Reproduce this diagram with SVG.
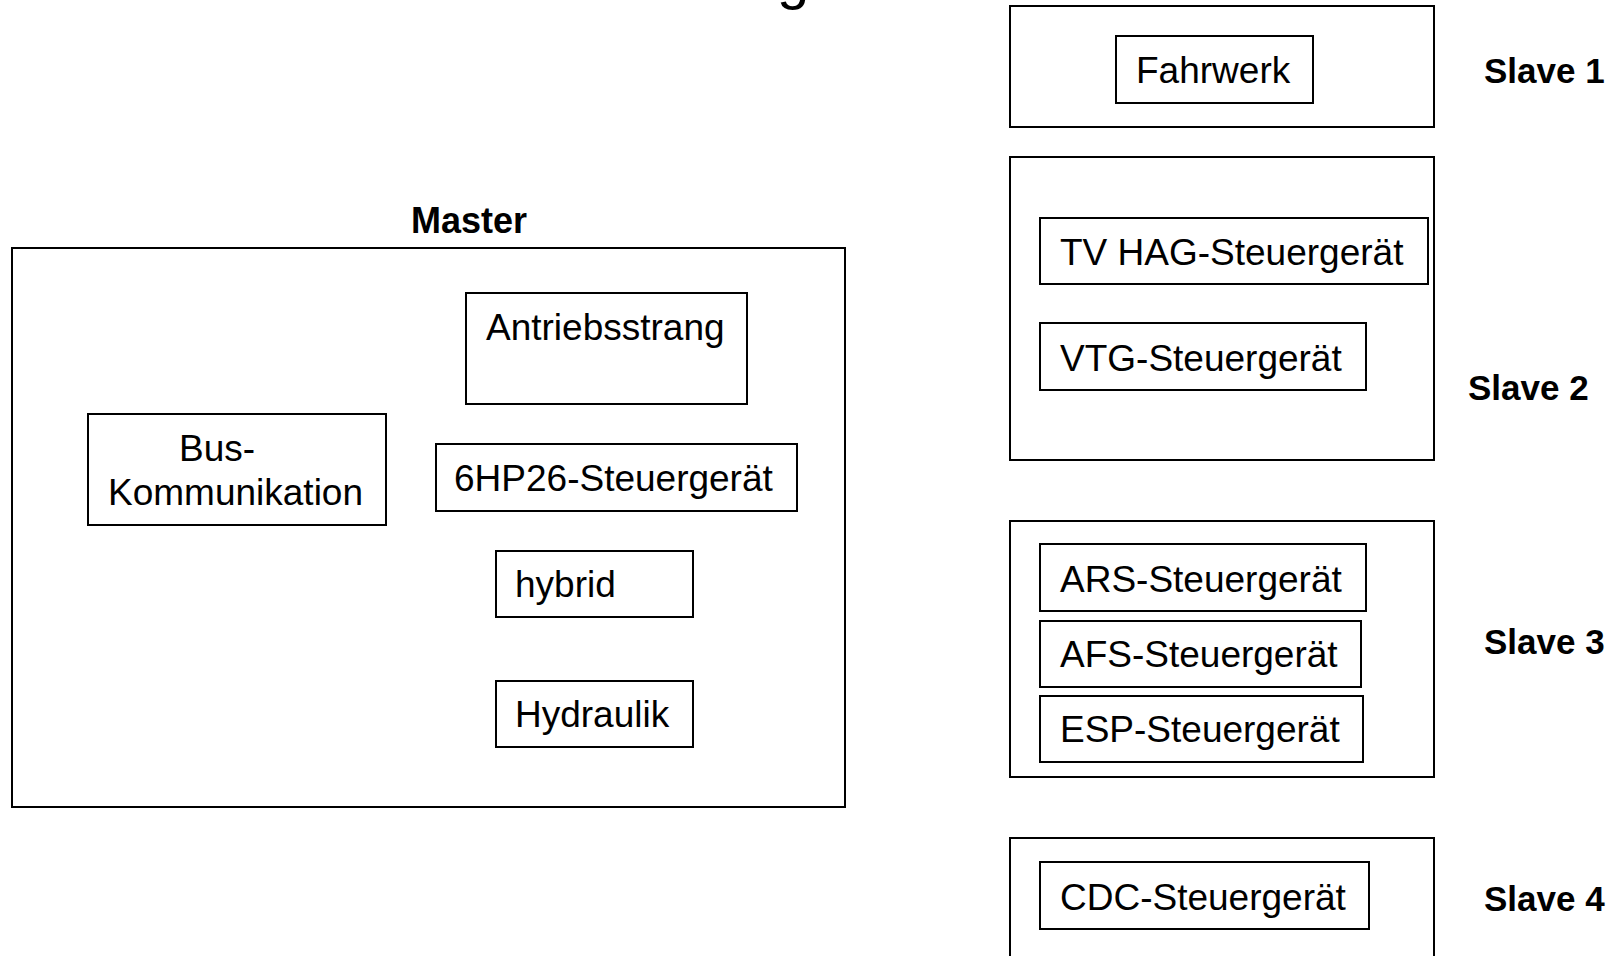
<svg xmlns="http://www.w3.org/2000/svg" width="1621" height="956" viewBox="0 0 1621 956">
<style>
rect{fill:#fff;stroke:#000;stroke-width:2}
text{font-family:"Liberation Sans",Arial,sans-serif;fill:#000}
.t{font-size:37px}
.b{font-size:35px;font-weight:bold}
</style>
<rect x="0" y="0" width="1621" height="956" style="stroke:none"/>
<text x="777" y="-2" style="font-size:58px">g</text>
<g id="master">
<text x="469" y="233" class="b" text-anchor="middle" style="font-size:36px">Master</text>
<rect x="12" y="248" width="833" height="559"/>
</g>
<g id="antriebsstrang"><rect x="466" y="293" width="281" height="111"/><text x="486" y="340" class="t">Antriebsstrang</text></g>
<g id="bus"><rect x="88" y="414" width="298" height="111"/><text x="179" y="461" class="t">Bus-</text><text x="108" y="505" class="t">Kommunikation</text></g>
<g id="hp26"><rect x="436" y="444" width="361" height="67"/><text x="454" y="491" class="t">6HP26-Steuergerät</text></g>
<g id="hybrid"><rect x="496" y="551" width="197" height="66"/><text x="515" y="597" class="t">hybrid</text></g>
<g id="hydraulik"><rect x="496" y="681" width="197" height="66"/><text x="515" y="727" class="t">Hydraulik</text></g>
<g id="slave1"><rect x="1010" y="6" width="424" height="121"/><text x="1484" y="83" class="b">Slave 1</text></g>
<g id="fahrwerk"><rect x="1116" y="36" width="197" height="67"/><text x="1136" y="83" class="t">Fahrwerk</text></g>
<g id="slave2"><rect x="1010" y="157" width="424" height="303"/><text x="1468" y="400" class="b">Slave 2</text></g>
<g id="tvhag"><rect x="1040" y="218" width="388" height="66"/><text x="1060" y="265" class="t">TV HAG-Steuergerät</text></g>
<g id="vtg"><rect x="1040" y="323" width="326" height="67"/><text x="1060" y="371" class="t">VTG-Steuergerät</text></g>
<g id="slave3"><rect x="1010" y="521" width="424" height="256"/><text x="1484" y="654" class="b">Slave 3</text></g>
<g id="ars"><rect x="1040" y="544" width="326" height="67"/><text x="1060" y="592" class="t">ARS-Steuergerät</text></g>
<g id="afs"><rect x="1040" y="621" width="321" height="66"/><text x="1060" y="667" class="t">AFS-Steuergerät</text></g>
<g id="esp"><rect x="1040" y="696" width="323" height="66"/><text x="1060" y="742" class="t">ESP-Steuergerät</text></g>
<g id="slave4"><rect x="1010" y="838" width="424" height="140"/><text x="1484" y="911" class="b">Slave 4</text></g>
<g id="cdc"><rect x="1040" y="862" width="329" height="67"/><text x="1060" y="910" class="t">CDC-Steuergerät</text></g>
<g id="connectors"></g>
</svg>
